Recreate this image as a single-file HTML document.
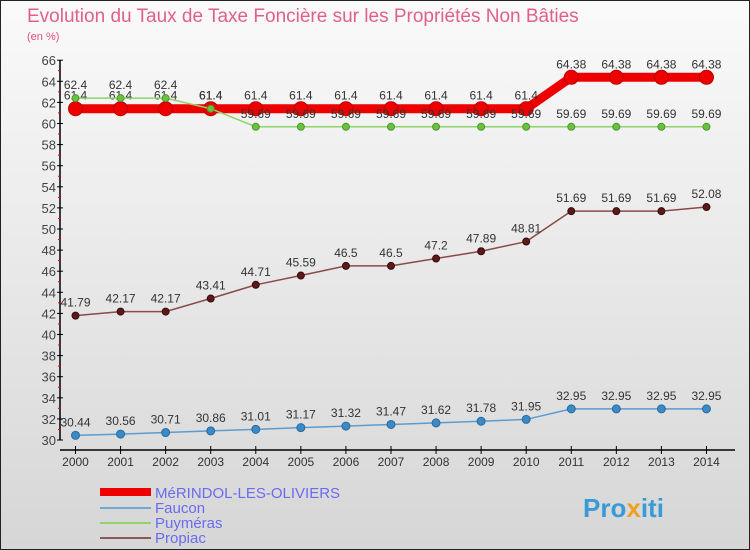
<!DOCTYPE html>
<html><head><meta charset="utf-8"><style>
body{margin:0}
#c{width:750px;height:550px;position:relative;overflow:hidden;font-family:"Liberation Sans",sans-serif}
</style></head><body>
<div id="c">
<svg id="s" width="750" height="550" xmlns="http://www.w3.org/2000/svg">
<defs><linearGradient id="bg" x1="0" y1="0" x2="0" y2="1"><stop offset="0" stop-color="#fafafa"/><stop offset="1" stop-color="#d6d6d6"/></linearGradient></defs>
<rect x="0.5" y="0.5" width="749" height="549" fill="url(#bg)" stroke="#222" stroke-width="1"/>
<text x="27" y="22" font-size="19" fill="#e0608a" font-weight="300">Evolution du Taux de Taxe Foncière sur les Propriétés Non Bâties</text>
<text x="27" y="40" font-size="11" fill="#e0507a">(en %)</text>
<g id="axes"></g><g id="series"></g>
<g>
<line x1="100" y1="492" x2="151" y2="492" stroke="#ee0000" stroke-width="8"/>
<text x="155" y="498" font-size="15" fill="#6b6bf0">MéRINDOL-LES-OLIVIERS</text>
<line x1="100" y1="508" x2="151" y2="508" stroke="#6fa8d0" stroke-width="2"/>
<text x="155" y="513" font-size="15" fill="#6b6bf0">Faucon</text>
<line x1="100" y1="523" x2="151" y2="523" stroke="#8ed46a" stroke-width="2"/>
<text x="155" y="528" font-size="15" fill="#6b6bf0">Puyméras</text>
<line x1="100" y1="538" x2="151" y2="538" stroke="#8a5a5a" stroke-width="2"/>
<text x="155" y="543" font-size="15" fill="#6b6bf0">Propiac</text>
</g>
<text x="583" y="517" font-size="26" font-weight="bold" fill="#3a9ad8">Pro<tspan fill="#f0a020">x</tspan>iti</text>
</svg>
</div>
<script>
const years=[2000,2001,2002,2003,2004,2005,2006,2007,2008,2009,2010,2011,2012,2013,2014];
const merindol=[61.4,61.4,61.4,61.4,61.4,61.4,61.4,61.4,61.4,61.4,61.4,64.38,64.38,64.38,64.38];
const faucon=[30.44,30.56,30.71,30.86,31.01,31.17,31.32,31.47,31.62,31.78,31.95,32.95,32.95,32.95,32.95];
const puymeras=[62.4,62.4,62.4,61.4,59.69,59.69,59.69,59.69,59.69,59.69,59.69,59.69,59.69,59.69,59.69];
const propiac=[41.79,42.17,42.17,43.41,44.71,45.59,46.5,46.5,47.2,47.89,48.81,51.69,51.69,51.69,52.08];
const yTicks=[30,32,34,36,38,40,42,44,46,48,50,52,54,56,58,60,62,64,66];
const NS="http://www.w3.org/2000/svg";
const x=i=>75.5+i*45.07;
const y=v=>440-(v-30)*10.55;
function mk(p,t,a){const e=document.createElementNS(NS,t);for(const k in a)e.setAttribute(k,a[k]);p.appendChild(e);return e;}
const ax=document.getElementById('axes');
let l=mk(ax,'line',{x1:60,y1:y(66),x2:60,y2:440,stroke:'#000','stroke-width':1.5});


l=mk(ax,'line',{x1:60,y1:450,x2:735,y2:450,stroke:'#000','stroke-width':1.5});


const yMax=yTicks[yTicks.length-1];
yTicks.forEach(v=>{
 const t=mk(ax,'line',{x1:57,y1:y(v),x2:63,y2:y(v),stroke:'#000'});
 
 
 if(v<yMax){
  const m=mk(ax,'line',{x1:58,y1:y(v+1),x2:61,y2:y(v+1),stroke:'#e00'});
  
  
 }
 const tx=mk(ax,'text',{x:56,y:y(v)+5,'text-anchor':'end','font-size':13,fill:'#444'});
 tx.textContent=v;
 
 
});
years.forEach((yr,i)=>{
 const t=mk(ax,'line',{x1:x(i),y1:446,x2:x(i),y2:454,stroke:'#000'});
 
 
 const tx=mk(ax,'text',{x:x(i),y:466,'text-anchor':'middle','font-size':12,fill:'#333'});
 tx.textContent=yr;
 
 
});
const sg=document.getElementById('series');
function draw(name,data,color,w,r,fill,stroke){
 const g=mk(sg,'g',{});
 
 
 const pl=mk(g,'polyline',{points:data.map((v,i)=>x(i)+','+y(v)).join(' '),fill:'none',stroke:color,'stroke-width':w});
 
 
 data.forEach((v,i)=>{
  const c=mk(g,'circle',{cx:x(i),cy:y(v),r:r,fill:fill,stroke:stroke,'stroke-width':1});
  
  
  const t=mk(g,'text',{x:x(i),y:y(v)-9,'text-anchor':'middle','font-size':12,fill:'#333'});
  t.textContent=String(v);
  
  
 });
}
draw('faucon',faucon,'#5b9bd0',1.5,4,'#3a8ac8','#2a6a9a');
draw('propiac',propiac,'#8a4a4a',1.5,3.5,'#5a1a1a','#3a0a0a');
draw('merindol',merindol,'#ee0000',9,7,'#ee0000','#bb0000');
draw('puymeras',puymeras,'#8ed46a',1.5,3.5,'#6cc040','#4a9a2a');
</script>
</body></html>
